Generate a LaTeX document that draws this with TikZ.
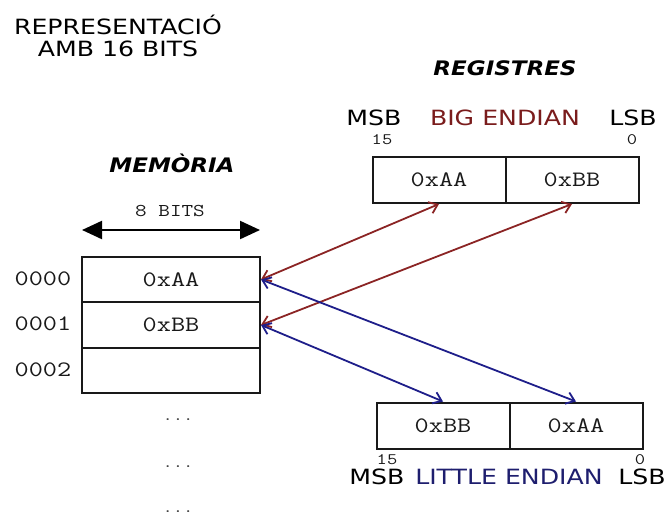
\documentclass[tikz,border=0pt]{standalone}
\usepackage{fontspec}
\setmainfont{DejaVu Sans}[FakeStretch=1.2]
\newfontfamily\regfont{DejaVu Sans}[FakeStretch=1.2]
\newfontfamily\boldit{DejaVu Sans Bold Oblique}[FakeStretch=1.15]
\newfontfamily\monofont{Latin Modern Mono}[FakeStretch=1.25]
\usetikzlibrary{arrows.meta}
\definecolor{bered}{HTML}{8B2424}
\definecolor{leblue}{HTML}{1E1E8A}
\definecolor{betext}{HTML}{7A1C1C}
\definecolor{letext}{HTML}{1E1E6E}
\tikzset{
  sanslbl/.style={font=\regfont\fontsize{21}{22}\selectfont, inner sep=0pt},
  titlelbl/.style={font=\boldit\fontsize{20}{22}\selectfont, inner sep=0pt},
  monolbl/.style={font=\monofont\fontsize{22}{24}\selectfont, inner sep=0pt, text=black!90},
  smallmono/.style={font=\monofont\fontsize{16}{17}\selectfont, inner sep=0pt, text=black!90},
  dotlbl/.style={font=\monofont\fontsize{16}{17}\selectfont, inner sep=0pt, text=black!80},
  cell/.style={draw=black!90, line width=2pt, minimum height=45.5pt, inner sep=0pt, font=\monofont\fontsize{22}{24}\selectfont, text=black!90},
  memcell/.style={cell, minimum width=178pt},
  regcell/.style={cell, minimum width=133pt, minimum height=46pt},
  bearrow/.style={draw=bered, line width=1.8pt, {Straight Barb[length=8pt,width=12pt]}-{Straight Barb[length=8pt,width=12pt]}},
  learrow/.style={draw=leblue, line width=1.8pt, {Straight Barb[length=8pt,width=12pt]}-{Straight Barb[length=8pt,width=12pt]}},
}
\begin{document}
\begin{tikzpicture}[x=1pt,y=-1pt]
\useasboundingbox (0,0) rectangle (669,519);
% title
\node[sanslbl, align=center, font=\regfont\fontsize{21}{22}\selectfont] (title) at (118,36) {REPRESENTACIÓ\\AMB 16 BITS};
\node[titlelbl] (regtitle) at (505,68) {REGISTRES};
\node[titlelbl] (memtitle) at (172,163) {MEMÒRIA};
% width indicator
\node[monolbl, font=\monofont\fontsize{18}{19}\selectfont] (bits) at (170,211) {8 BITS};
\coordinate (wl) at (82,230);
\coordinate (wr) at (260,230);
\draw[line width=2.2pt, {Triangle[length=20pt,width=18pt]}-{Triangle[length=20pt,width=18pt]}] (wl) -- (wr);
% memory
\node[memcell] (m0) at (171,279.5) {0xAA};
\node[memcell] (m1) at (171,325) {0xBB};
\node[memcell] (m2) at (171,370.5) {};
\node[monolbl] (a0) at (43,279) {0000};
\node[monolbl] (a1) at (43,324) {0001};
\node[monolbl] (a2) at (43,370) {0002};
\node[dotlbl] (d1) at (178,420) {...};
\node[dotlbl] (d2) at (178,467) {...};
\node[dotlbl] (d3) at (178,512) {...};
% big endian
\node[sanslbl] (bemsb) at (374,118) {MSB};
\node[sanslbl, text=betext] (betitle) at (505,118) {BIG ENDIAN};
\node[sanslbl] (belsb) at (633,118) {LSB};
\node[smallmono] (be15) at (382,140) {15};
\node[smallmono] (be0l) at (632,140) {0};
\node[regcell] (be0) at (439,180) {0xAA};
\node[regcell] (be1) at (572,180) {0xBB};
% little endian
\node[regcell] (le0) at (443,425.5) {0xBB};
\node[regcell] (le1) at (576,425.5) {0xAA};
\node[smallmono] (le15) at (387,460) {15};
\node[smallmono] (le0l) at (640,460) {0};
\node[sanslbl] (lemsb) at (377,477) {MSB};
\node[sanslbl, text=letext] (letitle) at (509,477) {LITTLE ENDIAN};
\node[sanslbl] (lelsb) at (642,477) {LSB};
% connectors
\draw[bearrow] (m0.east) -- (be0.south);
\draw[bearrow] (m1.east) -- (be1.south);
\draw[learrow] (m0.east) -- (le1.north);
\draw[learrow] (m1.east) -- (le0.north);
\end{tikzpicture}
\end{document}
